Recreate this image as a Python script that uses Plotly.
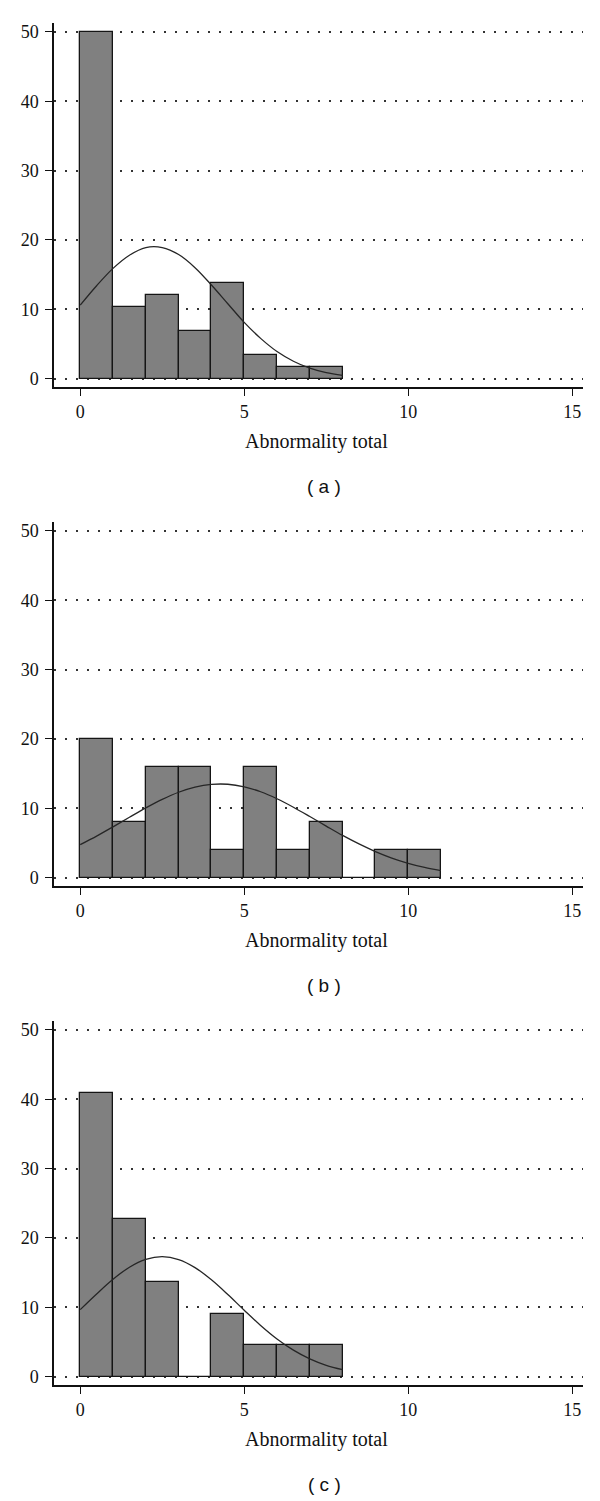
import plotly.graph_objects as go

# the page body has an 8px margin, so the figure is drawn 8px in from the corner
OFF = 8
W, H = 600 - OFF, 1501 - OFF

# bins are 1 unit wide, starting at 0
bins_a = [0, 1, 2, 3, 4, 5, 6, 7]
pct_a = [50.0, 10.3, 12.1, 6.9, 13.8, 3.4, 1.7, 1.7]
bins_b = [0, 1, 2, 3, 4, 5, 6, 7, 8, 9, 10]
pct_b = [20, 8, 16, 16, 4, 16, 4, 8, 0, 4, 4]
bins_c = [0, 1, 2, 3, 4, 5, 6, 7]
pct_c = [40.9, 22.7, 13.6, 0, 9.1, 4.5, 4.5, 4.5]

# normal density overlay
curve_x_a = [0, 0.5, 1, 1.5, 2, 2.5, 3, 3.5, 4, 4.5, 5, 5.5, 6, 6.5, 7, 7.5, 8]
curve_y_a = [10.6, 13.4, 15.9, 17.8, 18.9, 18.9, 17.9, 16.0, 13.5, 10.8, 8.1, 5.8, 3.9, 2.5, 1.5, 0.85, 0.45]
curve_x_b = [0, 0.5, 1, 1.5, 2, 2.5, 3, 3.5, 4, 4.5, 5, 5.5, 6, 6.5, 7, 7.5, 8, 8.5, 9, 9.5, 10, 10.5, 11]
curve_y_b = [4.75, 5.98, 7.32, 8.70, 10.05, 11.28, 12.31, 13.05, 13.44, 13.46, 13.09, 12.38, 11.37,
             10.15, 8.81, 7.43, 6.08, 4.85, 3.75, 2.82, 2.06, 1.46, 1.01]
curve_x_c = [0, 0.5, 1, 1.5, 2, 2.5, 3, 3.5, 4, 4.5, 5, 5.5, 6, 6.5, 7, 7.5, 8]
curve_y_c = [9.66, 11.92, 14.04, 15.78, 16.91, 17.30, 16.88, 15.72, 13.96, 11.84, 9.57, 7.38, 5.43,
             3.82, 2.56, 1.63, 1.00]

x_ticks = [0, 5, 10, 15]
y_ticks = [0, 10, 20, 30, 40, 50]
x_title = "Abnormality total"
captions = ["( a )", "( b )", "( c )"]

panels = [
    (bins_a, pct_a, curve_x_a, curve_y_a),
    (bins_b, pct_b, curve_x_b, curve_y_b),
    (bins_c, pct_c, curve_x_c, curve_y_c),
]


def px_x(px):
    """window column -> paper x"""
    return (px - OFF) / W


def px_y(px):
    """window row (from top) -> paper y"""
    return 1 - (px - OFF) / H


SERIF = "Liberation Serif"
fig = go.Figure()
layout = {}

for i, (bins, pct, cx, cy) in enumerate(panels):
    off = 500 * i
    n = "" if i == 0 else str(i + 1)
    xa, ya = "x" + n, "y" + n

    fig.add_trace(go.Bar(
        x=bins, y=pct, width=1, offset=0,
        marker=dict(color="#808080", line=dict(color="#151515", width=1.3)),
        xaxis=xa, yaxis=ya, showlegend=False,
    ))
    fig.add_trace(go.Scatter(
        x=cx, y=cy, mode="lines",
        line=dict(color="#262626", width=1.3, shape="spline"),
        xaxis=xa, yaxis=ya, showlegend=False,
    ))

    layout["xaxis" + n] = dict(
        domain=[px_x(54), px_x(583)], anchor=ya, range=[-0.8, 15.33],
        tickvals=x_ticks, ticks="outside", ticklen=7, tickwidth=1.2, tickcolor="#111",
        showline=True, linecolor="#111", linewidth=1.5, showgrid=False, zeroline=False,
        tickfont=dict(family=SERIF, size=18, color="#111"),
    )
    layout["yaxis" + n] = dict(
        domain=[px_y(387 + off), px_y(22 + off)], anchor=xa, range=[-1.25, 51.3],
        tickvals=y_ticks, ticks="outside", ticklen=7, tickwidth=1.2, tickcolor="#111",
        showline=True, linecolor="#111", linewidth=1.5, ticklabelstandoff=3,
        showgrid=True, gridcolor="#333", gridwidth=1.5, griddash="2px,9px", zeroline=False,
        tickfont=dict(family=SERIF, size=18, color="#111"),
    )

    fig.add_annotation(
        text=x_title, xref="paper", yref="paper", x=px_x(316), y=px_y(441 + off),
        showarrow=False, font=dict(family=SERIF, size=20, color="#111"),
        xanchor="center", yanchor="middle",
    )
    fig.add_annotation(
        text=captions[i], xref="paper", yref="paper", x=px_x(324), y=px_y(486 + off),
        showarrow=False, font=dict(family="Liberation Sans", size=19, color="#111"),
        xanchor="center", yanchor="middle",
    )

fig.update_layout(
    width=W, height=H, autosize=False,
    margin=dict(l=0, r=0, t=0, b=0),
    paper_bgcolor="white", plot_bgcolor="white",
    bargap=0,
    **layout,
)

fig.write_html("out.html")
